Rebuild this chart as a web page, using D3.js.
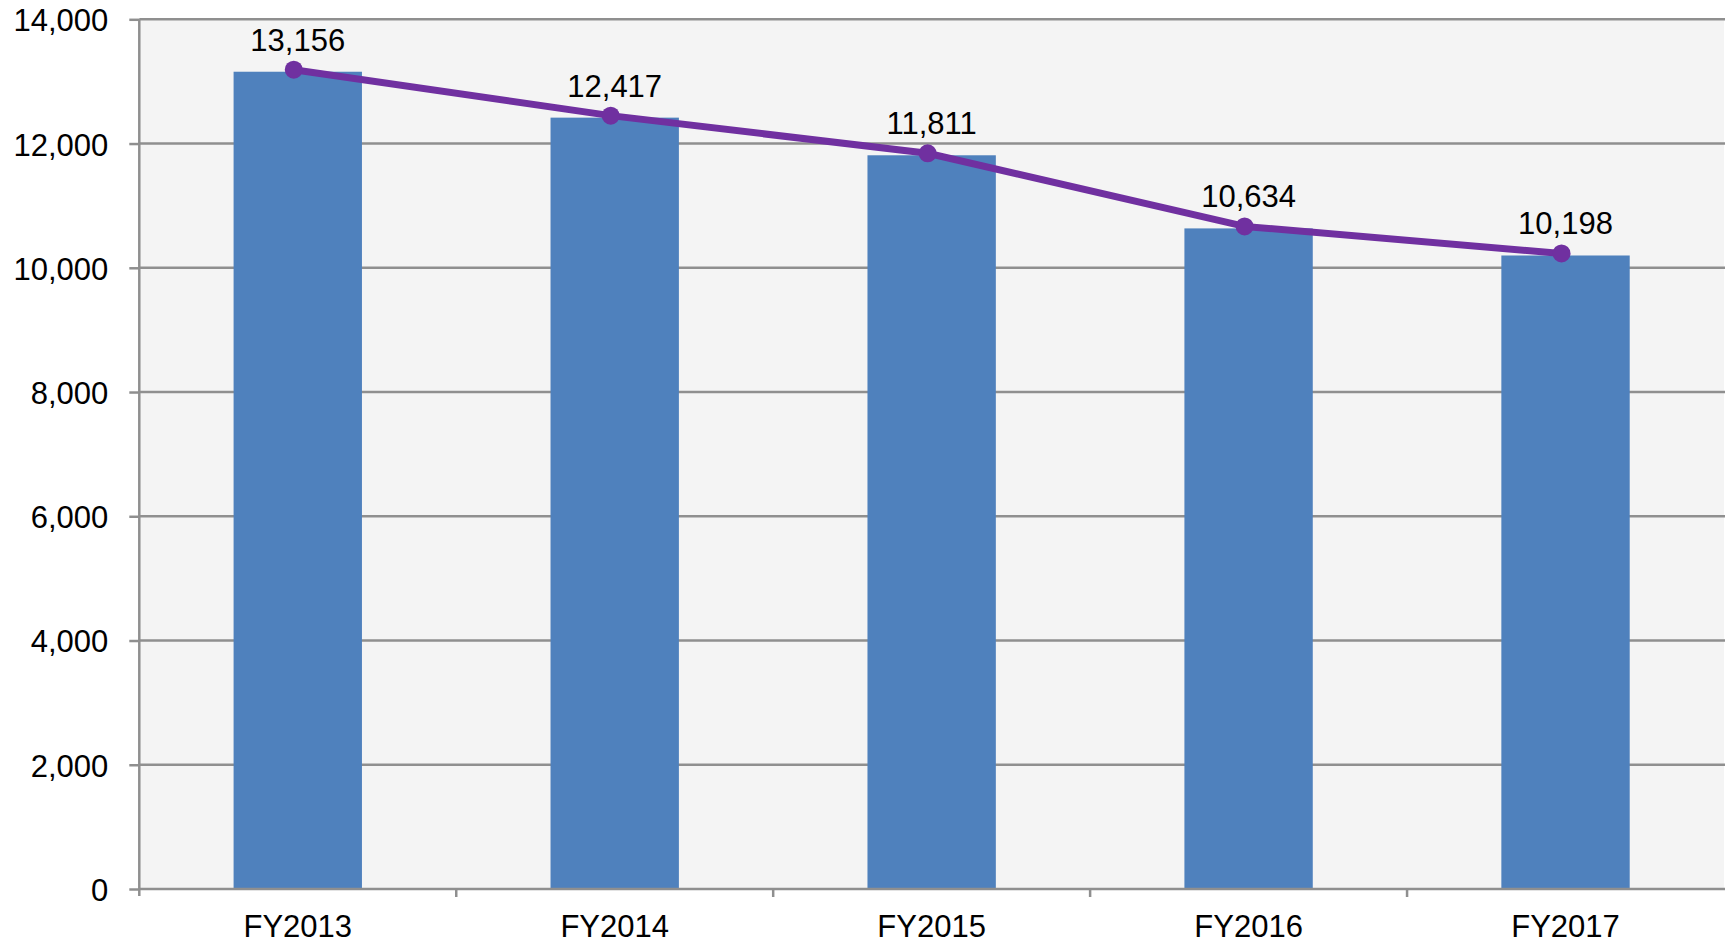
<!DOCTYPE html>
<html>
<head>
<meta charset="utf-8">
<script src="https://cdn.jsdelivr.net/npm/d3@7"></script>
<style>
  body { margin: 0; background: #fff; }
  text { font-family: "Liberation Sans", Arial, sans-serif; font-size: 31px; fill: #000; }
</style>
</head>
<body>
<svg id="chart" width="1729" height="942"></svg>
<script>
// chart data
var years = ["FY2013", "FY2014", "FY2015", "FY2016", "FY2017"];
var totals = [13156, 12417, 11811, 10634, 10198];
var yTicks = [0, 2000, 4000, 6000, 8000, 10000, 12000, 14000];

var plotLeft = 139.3, plotRight = 1724, plotTop = 19.3, plotBottom = 889;
var gridColor = "#8f8f8f";

var svg = d3.select("#chart");

var xScale = d3.scaleBand().domain(years).range([plotLeft, plotRight]);
var yScale = d3.scaleLinear().domain([0, 14000]).range([plotBottom, plotTop]);
var barW = xScale.bandwidth() * 0.405;

// plot background
svg.append("rect")
  .attr("x", plotLeft).attr("y", plotTop)
  .attr("width", plotRight - plotLeft).attr("height", plotBottom - plotTop)
  .attr("fill", "#f4f4f4");

// horizontal gridlines
svg.append("g").selectAll("line")
  .data(yTicks.filter(function(d) { return d > 0; }))
  .enter().append("line")
  .attr("x1", plotLeft).attr("x2", plotRight + 1)
  .attr("y1", function(d) { return yScale(d); })
  .attr("y2", function(d) { return yScale(d); })
  .attr("stroke", gridColor).attr("stroke-width", 2.5);

// bars
svg.append("g").selectAll("rect")
  .data(totals)
  .enter().append("rect")
  .attr("x", function(d, i) { return xScale(years[i]) + xScale.bandwidth() / 2 - barW / 2; })
  .attr("y", function(d) { return yScale(d); })
  .attr("width", barW)
  .attr("height", function(d) { return plotBottom - yScale(d); })
  .attr("fill", "#4f81bd");

// y axis
var yAxis = svg.append("g")
  .attr("transform", "translate(" + plotLeft + ",0)")
  .call(d3.axisLeft(yScale).tickValues(yTicks).tickSize(10).tickPadding(21)
    .tickFormat(d3.format(",")));
yAxis.select(".domain").remove();
yAxis.selectAll(".tick line").attr("stroke", gridColor).attr("stroke-width", 2.5);
yAxis.selectAll(".tick text")
  .attr("dy", "0.37em")
  .style("font-size", "31px")
  .style("font-family", "'Liberation Sans', Arial, sans-serif")
  .attr("fill", "#000");

svg.append("line")
  .attr("x1", plotLeft).attr("x2", plotLeft)
  .attr("y1", plotTop).attr("y2", plotBottom + 7)
  .attr("stroke", gridColor).attr("stroke-width", 2.5);

// x axis line and category boundary ticks
svg.append("line")
  .attr("x1", plotLeft).attr("x2", plotRight + 1)
  .attr("y1", plotBottom).attr("y2", plotBottom)
  .attr("stroke", gridColor).attr("stroke-width", 2.5);

var bounds = years.slice(1).map(function(d) { return xScale(d); });
svg.append("g").selectAll("line")
  .data(bounds)
  .enter().append("line")
  .attr("x1", function(d) { return d; }).attr("x2", function(d) { return d; })
  .attr("y1", plotBottom).attr("y2", plotBottom + 8)
  .attr("stroke", gridColor).attr("stroke-width", 2.5);

svg.append("g").selectAll("text")
  .data(years)
  .enter().append("text")
  .attr("x", function(d) { return xScale(d) + xScale.bandwidth() / 2; })
  .attr("y", 937)
  .attr("text-anchor", "middle")
  .text(function(d) { return d; });

// trend line, drawn slightly shifted like the original overlay
var lineLayer = svg.append("g").attr("transform", "translate(-4,-2)");
var line = d3.line()
  .x(function(d, i) { return xScale(years[i]) + xScale.bandwidth() / 2; })
  .y(function(d) { return yScale(d); });

lineLayer.append("path")
  .datum(totals)
  .attr("d", line)
  .attr("fill", "none")
  .attr("stroke", "#7030a0")
  .attr("stroke-width", 7)
  .attr("stroke-linejoin", "round");

lineLayer.selectAll("circle")
  .data(totals)
  .enter().append("circle")
  .attr("cx", function(d, i) { return xScale(years[i]) + xScale.bandwidth() / 2; })
  .attr("cy", function(d) { return yScale(d); })
  .attr("r", 9)
  .attr("fill", "#7030a0");

// value labels
svg.append("g").selectAll("text")
  .data(totals)
  .enter().append("text")
  .attr("x", function(d, i) { return xScale(years[i]) + xScale.bandwidth() / 2; })
  .attr("y", function(d) { return yScale(d) - 21; })
  .attr("text-anchor", "middle")
  .text(function(d) { return d3.format(",")(d); });
</script>
</body>
</html>
